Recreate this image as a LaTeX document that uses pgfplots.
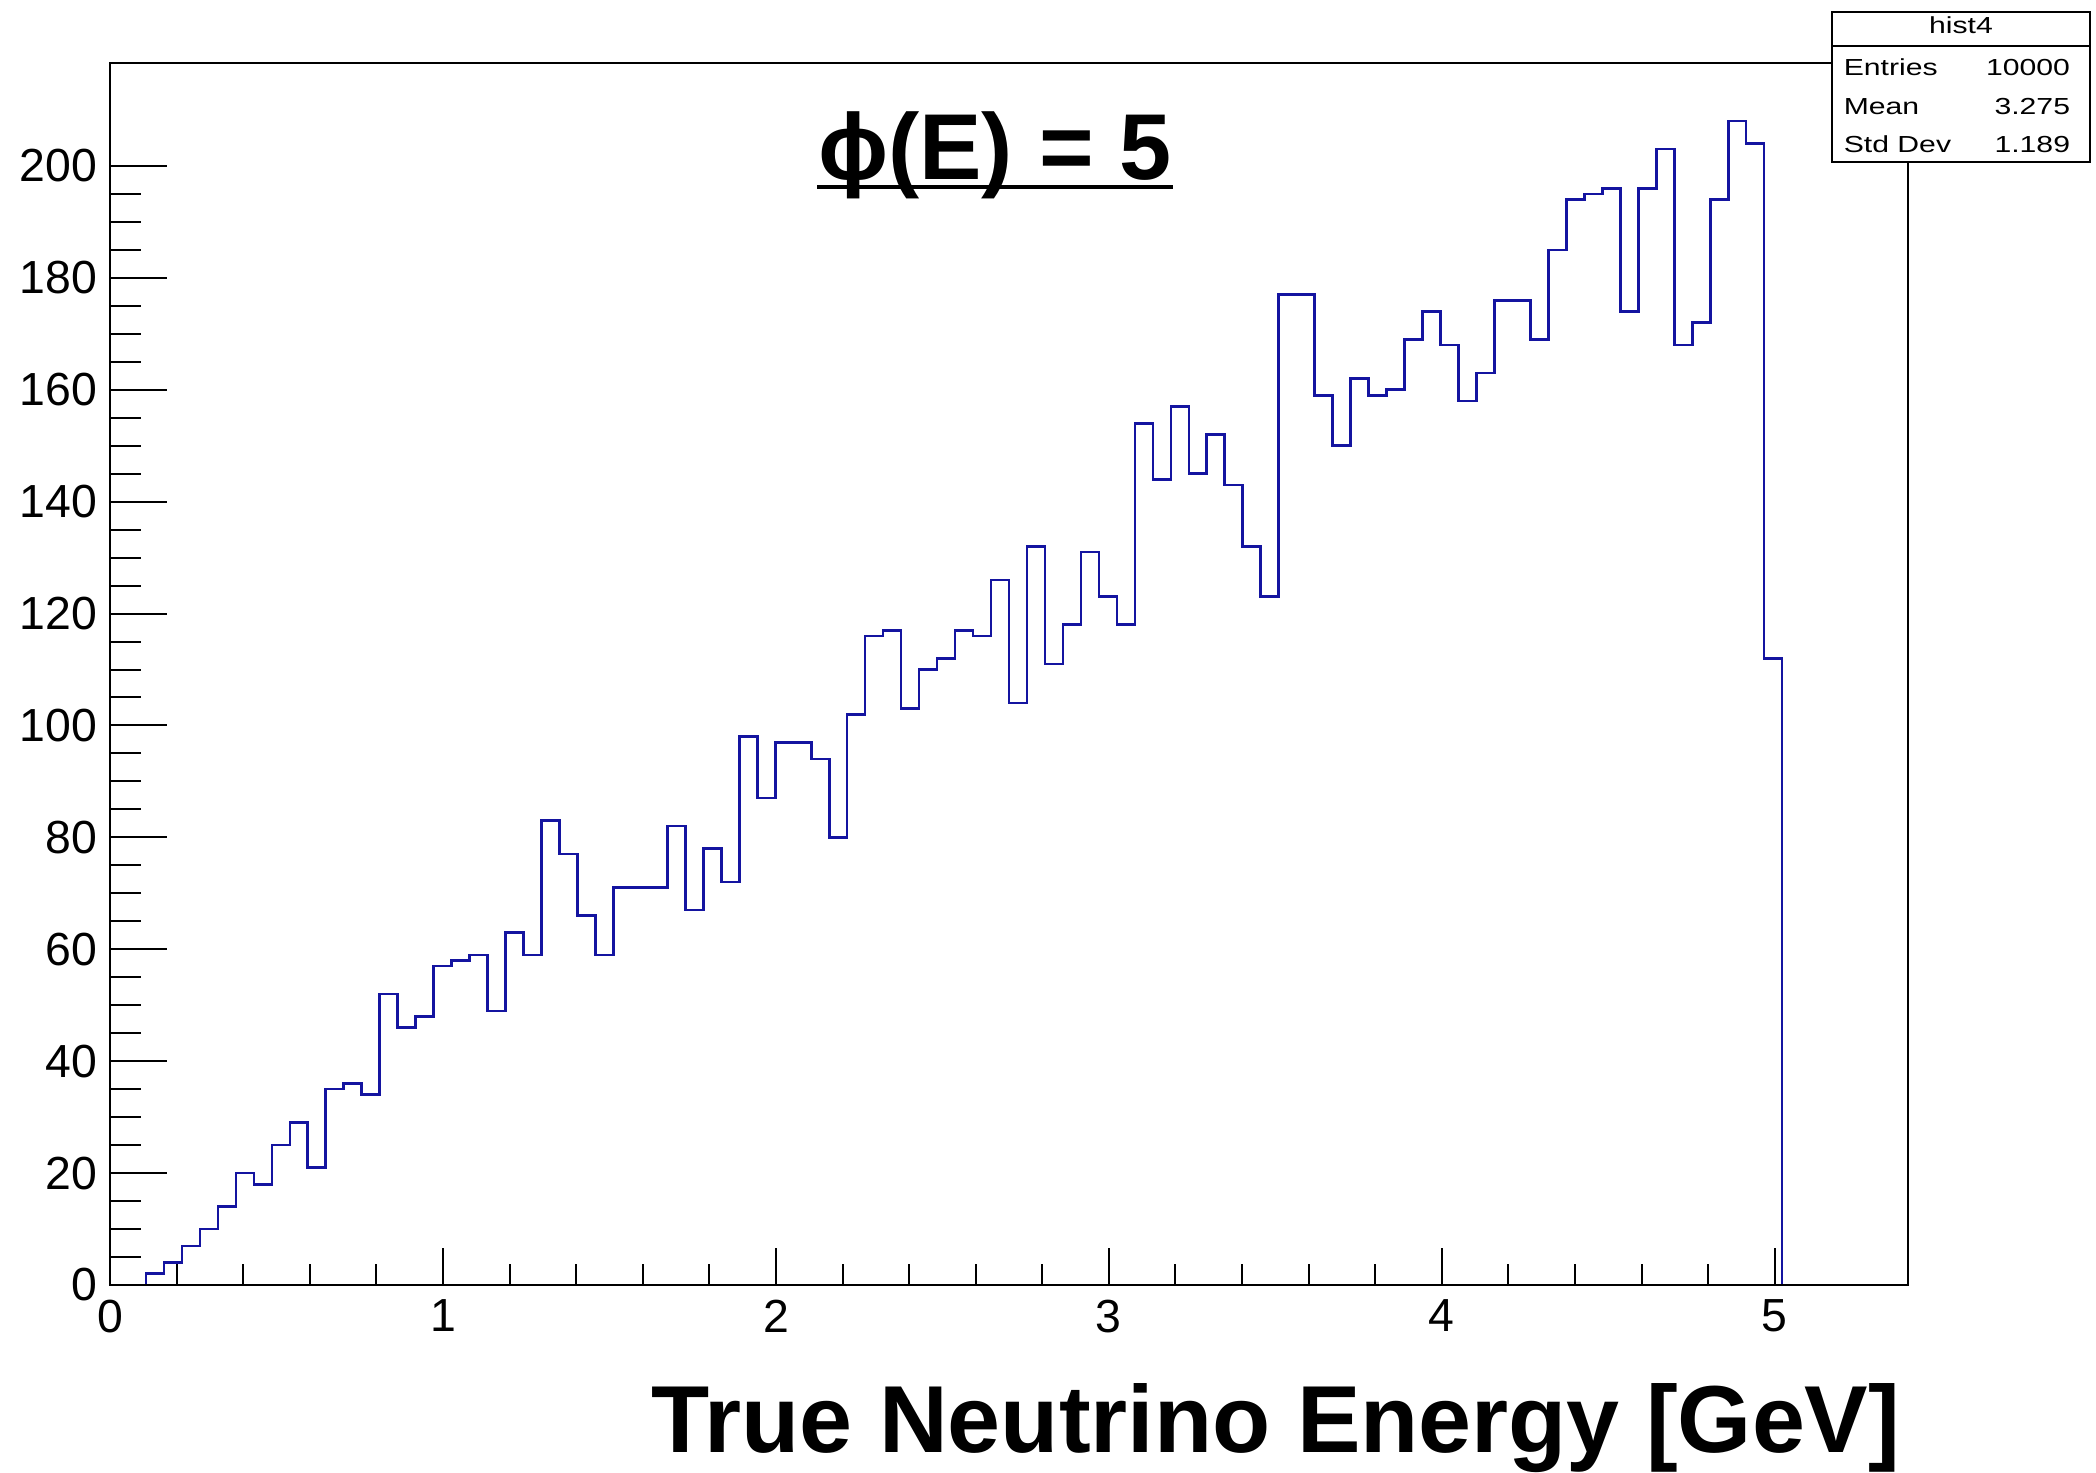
\documentclass[border=0pt]{standalone}
\usepackage{fontspec}
\setmainfont{Liberation Sans}
\usepackage{graphicx}
\usepackage{pgfplots}
\pgfplotsset{compat=1.18}
\definecolor{histblue}{RGB}{20,20,160}
\begin{document}
\begin{tikzpicture}[x=1pt,y=1pt]
\path[use as bounding box] (0,0) rectangle (524,368.25);
\begin{axis}[
  at={(27.5pt,47pt)}, anchor=south west,
  scale only axis, width=449.5pt, height=305.5pt,
  xmin=0, xmax=5.4, ymin=0, ymax=218.4,
  xtick={0,1,2,3,4,5}, ytick={0,20,...,200},
  minor x tick num=4, minor y tick num=3,
  tick align=inside, xtick pos=bottom, ytick pos=left,
  axis on top,
  axis line style={line width=0.6pt},
  every tick/.style={black, line width=0.5pt},
  xtick style={/pgfplots/major tick length=9.2pt, /pgfplots/minor tick length=5.25pt},
  ytick style={/pgfplots/major tick length=14.3pt, /pgfplots/minor tick length=7.8pt},
  tick label style={font=\fontsize{11.6}{13}\selectfont},
  /pgf/number format/assume math mode=true,
  xticklabel style={inner sep=0pt, yshift=-3.5pt},
  yticklabel style={inner sep=0pt, xshift=-3pt},
]
\addplot[const plot, histblue, line width=0.65pt] coordinates {
(0.108,0) (0.108,2) (0.162,4) (0.216,7) (0.270,10) (0.324,14) (0.378,20) (0.432,18) (0.486,25)
(0.540,29) (0.594,21) (0.648,35) (0.702,36) (0.756,34) (0.810,52) (0.864,46) (0.918,48) (0.972,57) (1.026,58)
(1.080,59) (1.134,49) (1.188,63) (1.242,59) (1.296,83) (1.350,77) (1.404,66) (1.458,59) (1.512,71) (1.566,71)
(1.620,71) (1.674,82) (1.728,67) (1.782,78) (1.836,72) (1.890,98) (1.944,87) (1.998,97) (2.052,97) (2.106,94)
(2.160,80) (2.214,102) (2.268,116) (2.322,117) (2.376,103) (2.430,110) (2.484,112) (2.538,117) (2.592,116) (2.646,126)
(2.700,104) (2.754,132) (2.808,111) (2.862,118) (2.916,131) (2.970,123) (3.024,118) (3.078,154) (3.132,144) (3.186,157)
(3.240,145) (3.294,152) (3.348,143) (3.402,132) (3.456,123) (3.510,177) (3.564,177) (3.618,159) (3.672,150) (3.726,162)
(3.780,159) (3.834,160) (3.888,169) (3.942,174) (3.996,168) (4.050,158) (4.104,163) (4.158,176) (4.212,176) (4.266,169)
(4.320,185) (4.374,194) (4.428,195) (4.482,196) (4.536,174) (4.590,196) (4.644,203) (4.698,168) (4.752,172) (4.806,194)
(4.860,208) (4.914,204) (4.968,112) (5.022,0)
};
\end{axis}
% title
\node[anchor=base, inner sep=0pt, font=\fontsize{23.4}{28}\bfseries\selectfont] (t) at (248.75,323.25) {ϕ(E) = 5};
\draw[line width=1pt] ([yshift=-1.85pt]t.base west) -- ([yshift=-1.85pt]t.base east);
% x label
\node[anchor=base east, inner sep=0pt, font=\fontsize{23.8}{28}\bfseries\selectfont] at (475.25,5) {True Neutrino Energy [GeV]};
% stats box
\draw[fill=white, line width=0.5pt] (458,327.8) rectangle (522.5,365.3);
\draw[line width=0.5pt] (458,356.8) -- (522.5,356.8);
\begin{scope}[every node/.style={inner sep=0pt, font=\fontsize{5.8}{7}\selectfont}]
\node[anchor=base] at (490.25,359.9) {\scalebox{1.3}[1]{hist4}};
\node[anchor=base west] at (460.75,349.25) {\scalebox{1.3}[1]{Entries}};
\node[anchor=base west] at (460.75,339.7) {\scalebox{1.3}[1]{Mean}};
\node[anchor=base west] at (460.75,330.1) {\scalebox{1.3}[1]{Std Dev}};
\node[anchor=base east] at (517.7,349.25) {\scalebox{1.3}[1]{10000}};
\node[anchor=base east] at (517.7,339.7) {\scalebox{1.3}[1]{3.275}};
\node[anchor=base east] at (517.7,330.1) {\scalebox{1.3}[1]{1.189}};
\end{scope}
\end{tikzpicture}
\end{document}
